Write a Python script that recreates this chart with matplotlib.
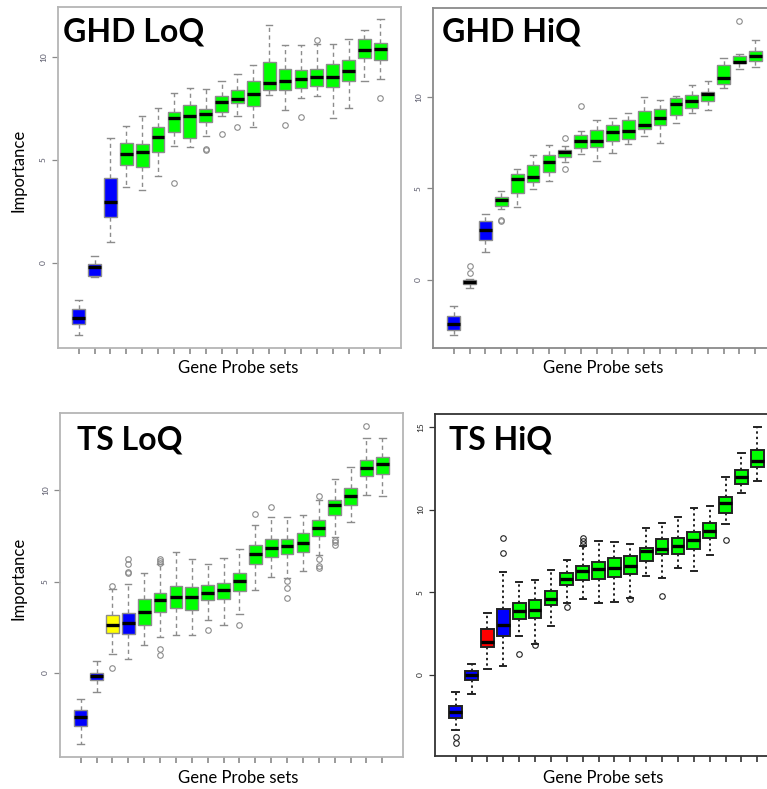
import matplotlib
matplotlib.use('Agg')
import matplotlib.pyplot as plt

plt.rcParams['font.family'] = ['Lato', 'DejaVu Sans']

GREEN, BLUE, YELLOW, RED = '#00ff00', '#0000ff', '#ffff00', '#ff0000'

# GHD LoQ
ghd_loq_lo = [-3.52, -0.68, 1.00, 3.66, 3.53, 4.23, 5.69, 5.64, 6.16, 7.10, 7.10, 6.58, 8.12, 7.42, 8.02, 8.07, 7.05, 7.49, 8.83, 8.91]
ghd_loq_q1 = [-2.97, -0.62, 2.20, 4.73, 4.65, 5.40, 6.35, 6.05, 6.81, 7.34, 7.73, 7.63, 8.38, 8.38, 8.48, 8.56, 8.53, 8.82, 9.94, 9.82]
ghd_loq_med = [-2.66, -0.19, 2.93, 5.28, 5.40, 6.11, 7.03, 7.10, 7.24, 7.78, 7.96, 8.18, 8.72, 8.80, 8.93, 9.00, 9.00, 9.29, 10.31, 10.39]
ghd_loq_q3 = [-2.25, -0.06, 4.13, 5.79, 5.75, 6.61, 7.33, 7.67, 7.47, 8.09, 8.40, 8.80, 9.76, 9.38, 9.35, 9.42, 9.66, 9.84, 10.84, 10.66]
ghd_loq_hi = [-1.80, 0.31, 6.08, 6.65, 7.13, 7.49, 8.25, 8.49, 8.44, 8.80, 9.14, 9.61, 11.56, 10.55, 10.55, 10.62, 10.60, 10.88, 11.31, 11.83]
ghd_loq_out = [[], [], [], [], [], [], [3.87], [], [5.53, 5.45], [6.26], [6.60], [], [], [6.71], [7.07], [10.79], [], [], [], [8.02]]
ghd_loq_col = [BLUE] * 3 + [GREEN] * 17

# GHD HiQ
ghd_hiq_lo = [-3.05, -0.48, 1.52, 3.89, 3.99, 4.97, 5.39, 6.44, 6.91, 6.49, 6.95, 7.46, 7.86, 7.50, 8.59, 9.14, 9.32, 10.51, 11.54, 11.66]
ghd_hiq_q1 = [-2.78, -0.24, 2.19, 4.06, 4.75, 5.36, 5.89, 6.73, 7.22, 7.28, 7.62, 7.71, 8.26, 8.50, 9.03, 9.43, 9.80, 10.73, 11.86, 11.97]
ghd_hiq_med = [-2.41, -0.15, 2.74, 4.35, 5.54, 5.65, 6.45, 7.02, 7.61, 7.61, 8.08, 8.15, 8.46, 8.87, 9.65, 9.78, 10.18, 11.04, 11.92, 12.25]
ghd_hiq_q3 = [-1.97, -0.04, 3.24, 4.52, 5.81, 6.27, 6.82, 7.13, 7.92, 8.19, 8.48, 8.78, 9.23, 9.36, 9.95, 10.15, 10.29, 11.76, 12.29, 12.54]
ghd_hiq_hi = [-1.43, 0.02, 3.60, 4.84, 6.05, 6.82, 7.39, 7.35, 8.15, 8.76, 8.88, 9.12, 10.02, 9.85, 10.05, 10.66, 10.88, 12.14, 12.36, 13.16]
ghd_hiq_out = [[], [0.75, 0.35], [], [3.24, 3.29], [], [], [], [7.77, 6.07], [9.52], [], [], [], [], [], [], [], [], [], [14.2], []]
ghd_hiq_col = [BLUE] * 3 + [GREEN] * 17

# TS LoQ
ts_loq_lo = [-3.88, -1.06, 1.04, 0.78, 1.55, 1.97, 2.09, 2.08, 2.90, 2.62, 3.24, 4.52, 5.23, 5.19, 5.59, 6.43, 7.43, 8.25, 9.74, 9.69]
ts_loq_q1 = [-2.91, -0.40, 2.17, 2.13, 2.64, 3.35, 3.55, 3.46, 3.99, 4.03, 4.46, 5.97, 6.34, 6.48, 6.61, 7.49, 8.65, 9.18, 10.75, 10.86]
ts_loq_med = [-2.42, -0.18, 2.60, 2.75, 3.33, 3.97, 4.13, 4.17, 4.39, 4.54, 5.01, 6.48, 6.81, 6.96, 7.09, 7.91, 9.18, 9.67, 11.20, 11.40]
ts_loq_q3 = [-2.04, 0.02, 3.15, 3.30, 4.03, 4.39, 4.75, 4.70, 4.83, 4.90, 5.45, 7.01, 7.30, 7.30, 7.63, 8.34, 9.47, 10.09, 11.62, 11.80]
ts_loq_hi = [-1.42, 0.66, 4.61, 4.88, 5.45, 5.95, 6.59, 6.23, 5.94, 6.27, 6.76, 8.11, 8.51, 8.51, 8.62, 9.47, 10.62, 11.26, 12.86, 12.86]
ts_loq_out = [[], [], [4.75, 0.27], [6.21, 5.96, 5.52, 5.46], [], [6.21, 6.10, 6.03, 1.33, 0.98], [], [], [2.35], [], [2.60],
              [8.71], [9.09], [5.01, 4.64, 4.10], [], [9.65, 6.25, 5.83, 5.72], [7.29, 7.16, 6.99], [], [13.52], []]
ts_loq_col = [BLUE, BLUE, YELLOW, BLUE] + [GREEN] * 16

# TS HiQ
ts_hiq_lo = [-3.38, -1.19, 0.32, 0.53, 2.34, 1.88, 2.93, 4.35, 4.61, 4.35, 4.41, 4.65, 6.00, 5.88, 6.43, 6.29, 7.22, 9.12, 10.98, 11.72]
ts_hiq_q1 = [-2.63, -0.34, 1.68, 2.34, 3.34, 3.42, 4.20, 5.42, 5.76, 5.82, 5.94, 6.12, 6.89, 7.28, 7.28, 7.64, 8.29, 9.82, 11.52, 12.59]
ts_hiq_med = [-2.26, -0.04, 1.98, 2.99, 3.84, 3.94, 4.61, 5.80, 6.27, 6.37, 6.47, 6.59, 7.46, 7.64, 7.78, 8.15, 8.69, 10.37, 11.99, 12.94]
ts_hiq_q3 = [-1.90, 0.20, 2.79, 4.00, 4.35, 4.53, 5.09, 6.17, 6.61, 6.83, 7.08, 7.16, 7.70, 8.21, 8.29, 8.63, 9.16, 10.77, 12.37, 13.58]
ts_hiq_hi = [-1.05, 0.65, 3.74, 6.23, 5.62, 5.76, 6.31, 6.95, 7.80, 8.11, 8.05, 7.90, 8.89, 9.16, 9.56, 10.09, 10.23, 11.99, 13.44, 14.98]
ts_hiq_out = [[-3.78, -4.12], [], [], [8.29, 7.36], [1.23], [1.80], [], [4.12], [8.25, 8.11, 7.94], [], [], [4.57], [],
              [4.77], [], [], [], [8.13], [], []]
ts_hiq_col = [BLUE, BLUE, RED, BLUE] + [GREEN] * 16

W, H = 767, 789


def px_rect(left, top, right, bottom):
    return [left / W, 1 - bottom / H, (right - left) / W, (bottom - top) / H]


def draw_panel(ax, lo, q1, med, q3, hi, out, cols, ylim, yticks, dark):
    stats = []
    for i in range(len(med)):
        stats.append({'whislo': lo[i], 'q1': q1[i], 'med': med[i], 'q3': q3[i],
                      'whishi': hi[i], 'fliers': out[i]})
    edge = '#222222' if dark else '#8c8c8c'
    wstyle = (0, (1.2, 1.6)) if dark else (0, (3, 2.5))
    lw = 1.4 if dark else 1.0
    bp = ax.bxp(stats, positions=range(1, len(med) + 1), widths=0.8, capwidths=0.4,
                patch_artist=True,
                boxprops=dict(edgecolor=edge, linewidth=lw),
                medianprops=dict(color='black', linewidth=2.4),
                whiskerprops=dict(color=edge, linestyle=wstyle, linewidth=lw),
                capprops=dict(color=edge, linewidth=lw),
                flierprops=dict(marker='o', markersize=4, markerfacecolor='none',
                                markeredgecolor=edge, markeredgewidth=0.8))
    for box, c in zip(bp['boxes'], cols):
        box.set_facecolor(c)
    ax.set_xlim(-0.3, len(med) + 1.3)
    ax.set_ylim(*ylim)
    ax.set_xticks(range(1, len(med) + 1))
    ax.set_xticklabels([])
    ax.set_yticks(yticks)
    ax.set_yticklabels([str(t) for t in yticks], rotation=90, va='center')
    tcol = '#333333' if dark else '#8a8a8a'
    ax.tick_params(axis='x', length=4.5, width=1.2, color=tcol)
    ax.tick_params(axis='y', length=4, width=0.9, color=tcol, labelsize=6,
                   labelcolor='#555566' if not dark else '#222222', pad=4)
    frame = '#333333' if dark else '#b5b5b5'
    for sp in ax.spines.values():
        sp.set_color(frame)
        sp.set_linewidth(1.3)


fig = plt.figure(figsize=(W / 100, H / 100), dpi=100)

ax1 = fig.add_axes(px_rect(58, 7, 401, 348))
draw_panel(ax1, ghd_loq_lo, ghd_loq_q1, ghd_loq_med, ghd_loq_q3, ghd_loq_hi, ghd_loq_out,
           ghd_loq_col, (-4.13, 12.41), [0, 5, 10], False)
ax2 = fig.add_axes(px_rect(433, 8, 776, 348))
draw_panel(ax2, ghd_hiq_lo, ghd_hiq_q1, ghd_hiq_med, ghd_hiq_q3, ghd_hiq_hi, ghd_hiq_out,
           ghd_hiq_col, (-3.75, 14.90), [0, 5, 10], False)
for sp in ax2.spines.values():
    sp.set_color('#8a8a8a')
ax3 = fig.add_axes(px_rect(60, 413, 403, 757))
draw_panel(ax3, ts_loq_lo, ts_loq_q1, ts_loq_med, ts_loq_q3, ts_loq_hi, ts_loq_out,
           ts_loq_col, (-4.59, 14.21), [0, 5, 10], False)
ax4 = fig.add_axes(px_rect(435, 414, 778, 756))
draw_panel(ax4, ts_hiq_lo, ts_hiq_q1, ts_hiq_med, ts_hiq_q3, ts_hiq_hi, ts_hiq_out,
           ts_hiq_col, (-4.93, 15.79), [0, 5, 10, 15], True)

# 右侧面板在原图中被裁掉了右边框
ax2.spines['right'].set_visible(False)
ax4.spines['right'].set_visible(False)

# 面板标题（左上角粗体）
titles = [('GHD LoQ', 63, 42), ('GHD HiQ', 442, 42), ('TS LoQ', 77, 450), ('TS HiQ', 449, 450)]
for txt, x, y in titles:
    fig.text(x / W, 1 - y / H, txt, fontsize=23, fontweight='bold', ha='left', va='baseline')

# 坐标轴标签
for x, y in [(238, 368), (603, 368), (238, 778), (603, 778)]:
    fig.text(x / W, 1 - y / H, 'Gene Probe sets', fontsize=12, ha='center', va='center')
for y in [170, 578]:
    fig.text(19 / W, 1 - y / H, 'Importance', fontsize=12, rotation=90, ha='center', va='center')

fig.savefig('out.png', dpi=100)
